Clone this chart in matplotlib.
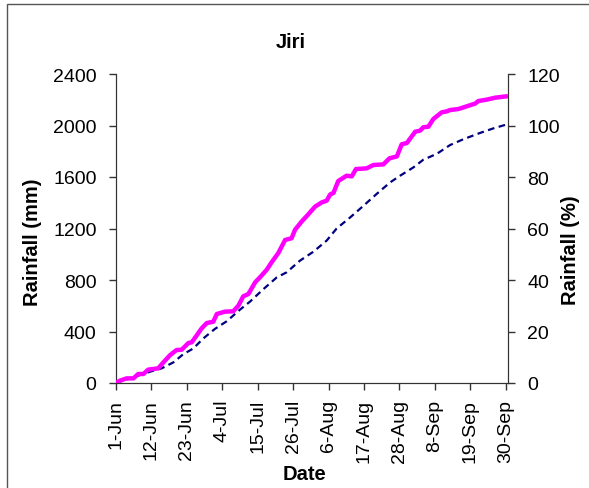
import matplotlib
matplotlib.use("Agg")
from matplotlib import pyplot as plt
from matplotlib.patches import Rectangle

plt.rcParams['font.family'] = ['Liberation Sans', 'DejaVu Sans']

# days after 1-Jun, cumulative rainfall (mm)
obs_day = [0, 1.2, 3.3, 5.4, 6.9, 8.5, 10, 13.1, 14.7, 16.8, 18.8, 20.4, 22.5, 23.5,
           25, 26.6, 28.2, 30.2, 31.3, 33.8, 36.4, 38, 39.5, 41.1, 43.2, 44.7, 46.8,
           48.3, 50.4, 52.5, 54.5, 55.6, 57.7, 59.7, 61.8, 63.9, 65.4, 66.5, 67.5, 69,
           71.6, 73.2, 74.5, 77.8, 79.9, 83, 84.9, 87.2, 88.7, 90.3, 92.9, 94.4, 95.4,
           97, 98.5, 101.1, 102.7, 103.7, 106.3, 108.9, 111.5, 112.5, 115.1, 117.7, 121]
obs_mm = [0, 18, 36, 36, 70, 70, 104, 114, 160, 217, 256, 259, 311, 316,
          368, 425, 466, 476, 536, 554, 557, 601, 673, 691, 782, 821, 880,
          937, 1010, 1111, 1124, 1191, 1256, 1310, 1370, 1403, 1416, 1465, 1476, 1569,
          1610, 1605, 1662, 1667, 1693, 1698, 1745, 1760, 1854, 1864, 1952, 1960, 1986,
          1991, 2050, 2102, 2110, 2120, 2128, 2149, 2170, 2190, 2201, 2216, 2226]

# cumulative rainfall (%)
pct_day = [0, 5.4, 10.6, 14.2, 17.8, 20.9, 24, 27.1, 30.7, 34.4, 38.5, 41.6, 45.8,
           49.9, 53, 57.1, 61.3, 65.4, 68.5, 72.7, 76.8, 80.9, 85.1, 88.2, 92.3,
           95.4, 99.6, 103.7, 107.9, 113, 117.2, 121]
pct_val = [0, 2.2, 4.4, 5.7, 8.0, 11.2, 13.4, 17.3, 21.0, 24.0, 28.5, 31.6, 36.5,
           41.0, 43.0, 47.5, 51.0, 55.3, 60.0, 64.3, 68.8, 73.4, 77.9, 80.5, 83.7,
           86.7, 89.0, 92.4, 94.7, 97.1, 98.9, 100.3]

tick_days = [0, 11, 22, 33, 44, 55, 66, 77, 88, 99, 110, 121]
tick_labels = ['1-Jun', '12-Jun', '23-Jun', '4-Jul', '15-Jul', '26-Jul', '6-Aug',
               '17-Aug', '28-Aug', '8-Sep', '19-Sep', '30-Sep']

W, H = 589, 489
fig = plt.figure(figsize=(W / 100, H / 100), dpi=100)
fig.patches.append(Rectangle((7 / W, -0.1), 1.2, 1.1 - 5 / H,
                             transform=fig.transFigure, fill=False,
                             edgecolor='#555555', linewidth=1))
ax = fig.add_axes([116 / W, 1 - 384 / H, 392 / W, 309 / H])
ax2 = ax.twinx()

ax.plot(obs_day, obs_mm, color='#FF00FF', lw=3.2, solid_joinstyle='round', zorder=3)
ax2.plot(pct_day, pct_val, color='#000080', lw=1.6, ls=(0, (3, 2)))

ax.set_xlim(0, 121.7)
ax.set_ylim(0, 2400)
ax2.set_ylim(0, 120)
ax.set_yticks(range(0, 2401, 400))
ax2.set_yticks(range(0, 121, 20))
ax.set_xticks(tick_days)
ax.set_xticklabels(tick_labels, rotation=90)

for a in (ax, ax2):
    a.spines['top'].set_visible(False)
    for s in a.spines.values():
        s.set_color('#333333')
    a.tick_params(labelsize=14, length=5, width=1, color='#333333', pad=9)
ax.tick_params(axis='x', pad=6.5)
ax.set_zorder(ax2.get_zorder() + 1)
ax.patch.set_visible(False)

bold = dict(fontsize=14.5, fontweight='bold', ha='center', va='center')
fig.text(33 / W, 1 - 242 / H, 'Rainfall (mm)', rotation=90, **bold)
fig.text(571 / W, 1 - 250 / H, 'Rainfall (%)', rotation=90, **bold)
fig.text(305 / W, 1 - 475 / H, 'Date', **bold)
fig.text(291 / W, 1 - 43 / H, 'Jiri', **bold)

plt.savefig('out.png', dpi=100)
